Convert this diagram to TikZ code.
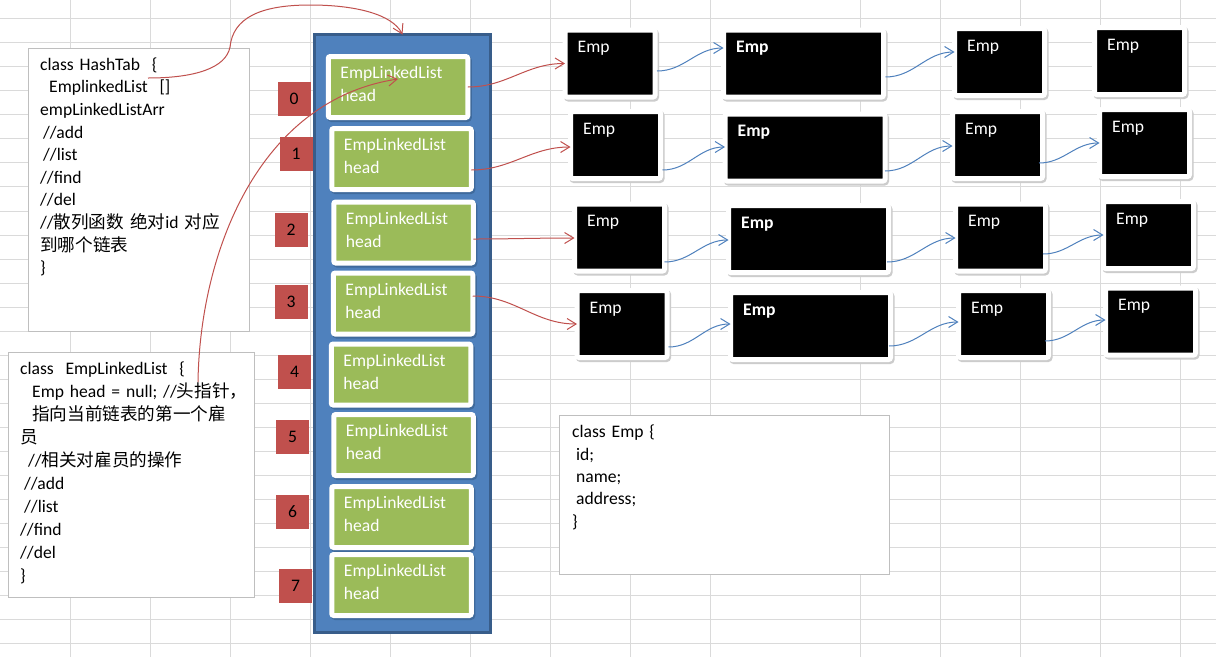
\documentclass[tikz,border=0pt]{standalone}
\usepackage{fontspec}
\setmainfont{Carlito}
\newfontfamily\cjk{Noto Sans CJK SC}
\usetikzlibrary{arrows.meta,shadows}

\definecolor{gridc}{HTML}{DADADA}
\definecolor{boxgray}{HTML}{BFBFBF}
\definecolor{idxred}{HTML}{C0504D}
\definecolor{contblue}{HTML}{4F81BD}
\definecolor{contedge}{HTML}{385D8A}
\definecolor{listgreen}{HTML}{9BBB59}
\definecolor{shadowblue}{HTML}{3F6A9C}
\definecolor{linkred}{HTML}{C0504D}
\definecolor{linkblue}{HTML}{4F81BD}

\tikzset{
  gridline/.style={draw=gridc, line width=1pt},
  classbox/.style={draw=boxgray, fill=white, line width=1pt, inner sep=0pt, outer sep=0pt},
  codetext/.style={anchor=base west, inner sep=0pt, align=left, text=black},
  idxbox/.style={fill=idxred, minimum width=33pt, minimum height=34pt, inner sep=0pt,
    font=\fontsize{17.6}{20}\selectfont},
  container/.style={fill=contblue, draw=contedge, line width=3pt, minimum width=176pt,
    minimum height=598pt, inner sep=0pt, outer sep=0pt},
  listbox/.style={fill=listgreen, draw=white, line width=5pt, rounded corners=2pt,
    minimum width=139.5pt, minimum height=61pt, inner sep=0pt, outer sep=0pt,
    drop shadow={shadow xshift=1.5pt, shadow yshift=-2pt, opacity=1,
      fill=shadowblue, draw=shadowblue, line width=5pt}},
  listtext/.style={anchor=base west, inner sep=0pt, align=left, text width=120pt,
    text=white, font=\fontsize{17.6}{23.4}\selectfont},
  empbox/.style={fill=black, draw=white, line width=5pt, rounded corners=2pt,
    minimum width=90pt, minimum height=67pt, inner sep=0pt, outer sep=0pt,
    drop shadow={shadow xshift=1.5pt, shadow yshift=-2pt, opacity=1,
      fill=black!20, draw=black!20, line width=5pt}},
  empwide/.style={empbox, minimum width=160pt},
  emptext/.style={anchor=base west, inner sep=0pt, text=white,
    font=\fontsize{17.6}{20}\selectfont},
  empbold/.style={emptext, font=\fontsize{17.6}{20}\selectfont\bfseries},
  redlink/.style={draw=linkred, line width=1pt,
    -{Straight Barb[length=9pt,width=11pt,line width=1pt]}},
  bluelink/.style={draw=linkblue, line width=1pt,
    -{Straight Barb[length=9pt,width=11pt,line width=1pt]}},
}

\begin{document}
\begin{tikzpicture}[x=1pt,y=-1pt]
\fill[white] (0,0) rectangle (1216,657);
\useasboundingbox (0,0) rectangle (1216,657);

% worksheet grid
\foreach \gx in {70,150,230,310,390,470,550,630,710,860,940,1020,1100,1180}
  \draw[gridline] (\gx,0) -- (\gx,657);
\foreach \k in {0,...,26}
  \draw[gridline] (0,{18.7+24.04*\k}) -- (1216,{18.7+24.04*\k});

% class description boxes
\node[classbox, minimum width=221pt, minimum height=283pt] (hashbox) at (138.5,189.5) {};
\node[codetext, text width=205pt, font=\fontsize{17.6}{22.6}\selectfont] (hashtxt) at (40,70.3)
  {class HashTab~~\{\\
   \hspace*{9pt}EmplinkedList~~[]\\
   empLinkedListArr\\
   \hspace*{3pt}//add\\
   \hspace*{3pt}//list\\
   //find\\
   //del\\
   //{\cjk 散列函数} {\cjk 绝对}id {\cjk 对应}\\
   {\cjk 到哪个链表}\\
   \}};

\node[classbox, minimum width=246pt, minimum height=245pt] (listclass) at (131,474.5) {};
\node[codetext, text width=230pt, font=\fontsize{17.6}{23}\selectfont] (listtxt) at (20,374.3)
  {class~~EmpLinkedList~~\{\\
   \hspace*{12pt}Emp head = null; //{\cjk 头指针，}\\
   \hspace*{12pt}{\cjk 指向当前链表的第一个雇}\\
   {\cjk 员}\\
   \hspace*{8pt}//{\cjk 相关对雇员的操作}\\
   \hspace*{4pt}//add\\
   \hspace*{4pt}//list\\
   //find\\
   //del\\
   \}};

\node[classbox, minimum width=330pt, minimum height=159pt] (empclass) at (724,494.5) {};
\node[codetext, text width=300pt, font=\fontsize{17.6}{22.4}\selectfont] (emptxt) at (572,437.7)
  {class Emp \{\\
   \hspace*{4pt}id;\\
   \hspace*{4pt}name;\\
   \hspace*{4pt}address;\\
   \}};

% hash table array
\node[container] (cont) at (402.5,333.5) {};

\foreach \i/\cx/\cy in {0/294/98.5, 1/296/154, 2/291/230, 3/291/302,
                        4/294.5/372, 5/292.5/437, 6/292.5/512, 7/295.5/586}
  \node[idxbox] (idx\i) at (\cx,\cy) {\i};

\foreach \i/\cx/\cy in {0/398/87, 1/401.5/159, 2/403.5/232.5, 3/403/303.5,
                        4/401/374.5, 5/403.5/445, 6/401.5/517, 7/401.5/585}
{
  \node[listbox] (g\i) at (\cx,\cy) {};
  \node[listtext] (g\i t) at ([shift={(12,22)}]g\i.north west) {EmpLinkedList\\head};
}

% employee nodes
\foreach \n/\cx/\cy/\bs/\ts in {
    e00/610/63.5/empbox/emptext, e01/803.5/63.5/empwide/empbold,
    e02/999.5/62/empbox/emptext, e03/1139.5/61/empbox/emptext,
    e10/615.5/145/empbox/emptext, e11/805/147.5/empwide/empbold,
    e12/997.5/145/empbox/emptext, e13/1144.5/143/empbox/emptext,
    e20/619.5/237.5/empbox/emptext, e21/808.5/239/empwide/empbold,
    e22/1000.5/237.5/empbox/emptext, e23/1148.5/235/empbox/emptext,
    e30/622/324/empbox/emptext, e31/810.5/326/empwide/empbold,
    e32/1003.5/324/empbox/emptext, e33/1150.5/321.5/empbox/emptext}
{
  \node[\bs] (\n) at (\cx,\cy) {};
  \node[\ts] (\n t) at ([shift={(12.5,22.5)}]\n.north west) {Emp};
}

% pointers
\coordinate (hbrace) at (148,78);
\coordinate (headptr) at (198,382);
\draw[redlink] (hbrace) .. controls (195,78) and (226,68) .. (230,47)
  .. controls (233,18) and (260,5) .. (310,5)
  .. controls (355,5) and (392,14) .. (cont.north);
\draw[redlink] (headptr) .. controls (200,250) and (260,100) .. ([shift={(0,-8)}]g0.center);

\draw[redlink] (g0.east) to[out=0,in=180] (e00.west);
\draw[redlink] ([shift={(0,11)}]g1.east) to[out=0,in=180] ([shift={(0,2)}]e10.west);
\draw[redlink] ([shift={(0,6.5)}]g2.east) to[out=0,in=180] ([shift={(0,0.5)}]e20.west);
\draw[redlink] ([shift={(0,-7.5)}]g3.east) to[out=0,in=180] (e30.west);

% next links
\draw[bluelink] ([shift={(2,7.5)}]e00.east) to[out=0,in=180] ([shift={(0,-15.5)}]e01.west);
\draw[bluelink] ([shift={(2,13.5)}]e01.east) to[out=0,in=180] ([shift={(0,-10)}]e02.west);

\draw[bluelink] ([shift={(2,25)}]e10.east) to[out=0,in=180] ([shift={(0,-0.5)}]e11.west);
\draw[bluelink] ([shift={(0,23.5)}]e11.east) to[out=0,in=180] ([shift={(0,1)}]e12.west);
\draw[bluelink] ([shift={(-3.5,18)}]e12.east) to[out=0,in=180] (e13.west);

\draw[bluelink] ([shift={(0,24.5)}]e20.east) to[out=0,in=180] ([shift={(0,1)}]e21.west);
\draw[bluelink] ([shift={(-1.5,23)}]e21.east) to[out=0,in=180] ([shift={(0,0.5)}]e22.west);
\draw[bluelink] ([shift={(-2.5,16.5)}]e22.east) to[out=0,in=180] (e23.west);

\draw[bluelink] ([shift={(1.5,23)}]e30.east) to[out=0,in=180] ([shift={(0,-2)}]e31.west);
\draw[bluelink] ([shift={(-1.5,20)}]e31.east) to[out=0,in=180] ([shift={(0,-2)}]e32.west);
\draw[bluelink] ([shift={(-3.5,17)}]e32.east) to[out=0,in=180] ([shift={(0,-1.5)}]e33.west);
\end{tikzpicture}
\end{document}
